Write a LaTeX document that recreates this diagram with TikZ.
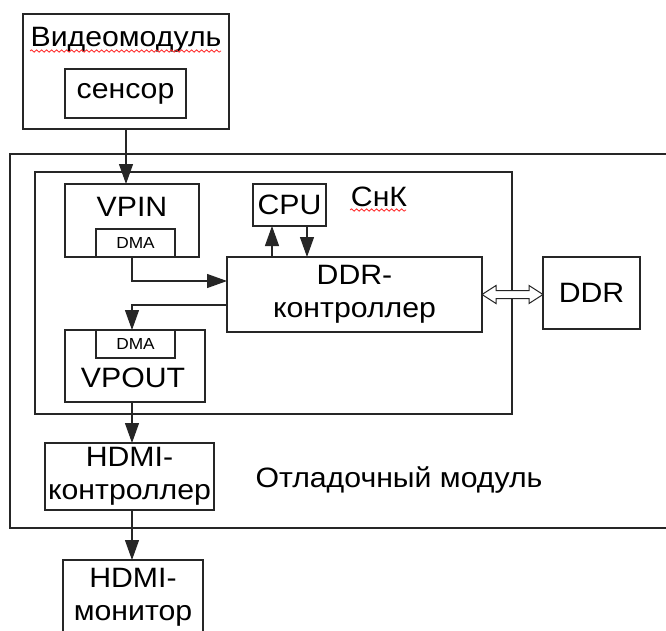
\documentclass[tikz,border=0pt]{standalone}
\usepackage{fontspec}
\setmainfont[FakeStretch=1.08]{Liberation Sans}
\usetikzlibrary{arrows.meta,calc,decorations.pathmorphing}
\begin{document}
\begin{tikzpicture}[x=1pt,y=-1pt,
  box/.style={draw=black!85,line width=1.2pt,inner sep=0pt,outer sep=0pt},
  lbl/.style={inner sep=0pt,font=\fontsize{28}{33}\selectfont,align=center},
  small/.style={inner sep=0pt,font=\fontsize{16}{18}\selectfont},
  conn/.style={draw=black!85,line width=1.2pt,-{Triangle[length=20pt,width=14pt]}},
  wavy/.style={draw=red!85,line width=0.8pt,decorate,decoration={snake,amplitude=1.2pt,segment length=5pt}}]
\useasboundingbox (0,0) rectangle (666,630);
\fill[white] (0,0) rectangle (666,630);
% outer boxes
\node[box,minimum width=206,minimum height=115] (vm) at (126,71.5) {};
\node[lbl] (vmt) at (126,40) {Видеомодуль};
\node[box,minimum width=121,minimum height=49,lbl] (sensor) at (125.5,93.5) {сенсор};
\node[box,minimum width=720,minimum height=374] (otl) at (370,341) {};
\node[lbl] (otlt) at (399,480) {Отладочный модуль};
\node[box,minimum width=477,minimum height=242] (snk) at (273.5,293) {};
\node[lbl] (snkt) at (379,197) {СнК};
% inner blocks
\node[box,minimum width=134,minimum height=73] (vpin) at (132,220.5) {};
\node[lbl] (vpint) at (132,207) {VPIN};
\node[box,minimum width=79,minimum height=28,small] (dma1) at (135.5,243) {DMA};
\node[box,minimum width=73,minimum height=42,lbl] (cpu) at (289.5,205) {CPU};
\node[box,minimum width=255,minimum height=75,lbl] (ddrc) at (354.5,294.5) {DDR-\\контроллер};
\node[box,minimum width=97,minimum height=72,lbl] (ddr) at (591.5,293) {DDR};
\node[box,minimum width=140,minimum height=72] (vpout) at (135,366) {};
\node[lbl] (vpoutt) at (133,378) {VPOUT};
\node[box,minimum width=79,minimum height=28,small] (dma2) at (135.5,344) {DMA};
\node[box,minimum width=169,minimum height=67,lbl] (hdmic) at (129.5,476.5) {HDMI-\\контроллер};
\node[box,minimum width=140,minimum height=120] (hdmim) at (133,620) {};
\node[lbl] (hdmimt) at (133,597) {HDMI-\\монитор};
% spell-check underlines
\coordinate (w1a) at (30,51); \coordinate (w1b) at (221,51);
\coordinate (w2a) at (350,210); \coordinate (w2b) at (406,210);
\draw[wavy] (w1a) -- (w1b);
\draw[wavy] (w2a) -- (w2b);
% helper coordinates for connector columns
\coordinate (cu) at ([xshift=-17.5pt]cpu.south);
\coordinate (cd) at ([xshift=17.5pt]cpu.south);
\coordinate (d1) at ([xshift=-3.5pt]dma1.south);
\coordinate (d2) at ([xshift=-3.5pt]dma2.north);
\coordinate (vo) at ([xshift=-3pt]vpout.south);
\coordinate (hc) at ([xshift=2.5pt]hdmic.south);
\coordinate (inw) at ([yshift=13.5pt]ddrc.west);
\coordinate (outw) at ([yshift=-10.5pt]ddrc.west);
% connectors
\draw[conn] (vm.south) -- (vm.south |- vpin.north);
\draw[conn] (d1) |- (inw);
\draw[conn] (outw) -| (d2);
\draw[conn] (cu |- ddrc.north) -- (cu);
\draw[conn] (cd) -- (cd |- ddrc.north);
\draw[conn] (vo) -- (vo |- hdmic.north);
\draw[conn] (hc) -- (hc |- hdmim.north);
% hollow double arrow DDR-controller <-> DDR
\coordinate (da) at (ddrc.east);
\coordinate (db) at (ddrc.east -| ddr.west);
\draw[black!85,line width=1pt,fill=white]
  (da) -- ($(da)+(14,-9)$) -- ($(da)+(14,-4)$) -- ($(db)+(-14,-4)$) -- ($(db)+(-14,-9)$)
  -- (db) -- ($(db)+(-14,9)$) -- ($(db)+(-14,4)$) -- ($(da)+(14,4)$) -- ($(da)+(14,9)$) -- cycle;
\end{tikzpicture}
\end{document}
